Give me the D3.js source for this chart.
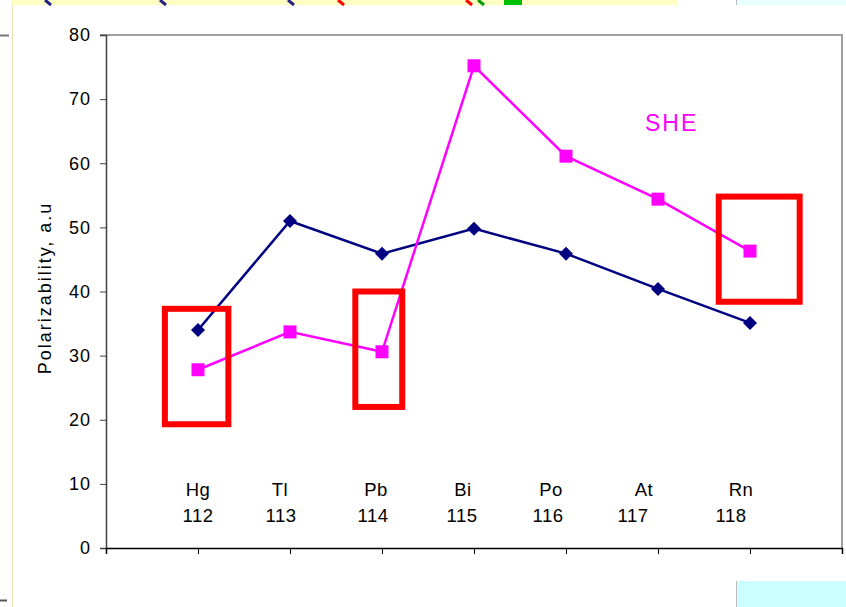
<!DOCTYPE html>
<html lang="en">
<head>
<meta charset="utf-8">
<title>Polarizability SHE</title>
<script src="https://cdn.jsdelivr.net/npm/d3@7"></script>
<style>
  body { margin: 0; background: #fff; }
  svg { display: block; font-family: "Liberation Sans", Arial, sans-serif; }
  .axis text { font-size: 18px; fill: #000; letter-spacing: 1px; }
</style>
</head>
<body>
<script>
// data
var elements = ["Hg", "Tl", "Pb", "Bi", "Po", "At", "Rn"];
var atomicNumbers = ["112", "113", "114", "115", "116", "117", "118"];
var nonRel = [34.0, 51.0, 45.9, 49.8, 45.9, 40.4, 35.1];   // navy diamonds
var she = [27.8, 33.7, 30.6, 75.2, 61.1, 54.4, 46.3];      // magenta squares
var yTicks = [0, 10, 20, 30, 40, 50, 60, 70, 80];
// highlight boxes, in category-index / value units
var boxes = [
  {x0: 0.64, x1: 1.33, y0: 19.3, y1: 37.3},
  {x0: 2.71, x1: 3.22, y0: 22.0, y1: 40.0},
  {x0: 6.66, x1: 7.54, y0: 38.4, y1: 54.8}
];

var W = 846, H = 607;
var svg = d3.select("body").append("svg").attr("width", W).attr("height", H);

// page bits around the chart (screenshot surroundings)
svg.append("rect").attr("x", 12).attr("y", 0).attr("width", 666).attr("height", 5).attr("fill", "#ffffc4");
var strokes = [[45, "#22228a"], [160, "#22228a"], [288, "#22228a"], [338, "#ff0000"], [466, "#ff0000"], [478, "#00a000"]];
strokes.forEach(function(s) {
  svg.append("line").attr("x1", s[0]).attr("y1", 0).attr("x2", s[0] + 6).attr("y2", 5)
    .attr("stroke", s[1]).attr("stroke-width", 3);
});
svg.append("rect").attr("x", 504).attr("y", 0).attr("width", 18).attr("height", 5).attr("fill", "#00c000");
svg.append("rect").attr("x", 737).attr("y", 0).attr("width", 109).attr("height", 5).attr("fill", "#e6ffff");
svg.append("line").attr("x1", 736.5).attr("y1", 0).attr("x2", 736.5).attr("y2", 5).attr("stroke", "#bbb");
svg.append("rect").attr("x", 737).attr("y", 581).attr("width", 109).attr("height", 26).attr("fill", "#ccffff");
svg.append("line").attr("x1", 736.5).attr("y1", 581).attr("x2", 736.5).attr("y2", 607).attr("stroke", "#bbb");
svg.append("line").attr("x1", 12.5).attr("y1", 5).attr("x2", 12.5).attr("y2", 607).attr("stroke", "#e8e4b0");
svg.append("line").attr("x1", 0).attr("y1", 35.5).attr("x2", 9).attr("y2", 35.5).attr("stroke", "#777").attr("stroke-width", 2);
svg.append("line").attr("x1", 0).attr("y1", 600.5).attr("x2", 7).attr("y2", 600.5).attr("stroke", "#555").attr("stroke-width", 2);

var plotL = 106, plotR = 842, plotT = 35, plotB = 548;
var x = d3.scaleLinear().domain([0, 8]).range([plotL, plotR]);
var y = d3.scaleLinear().domain([0, 80]).range([plotB, plotT]);

// plot frame (top and right)
svg.append("path")
  .attr("d", "M" + (plotL - 6) + "," + plotT + "H" + plotR + "V" + plotB)
  .attr("fill", "none").attr("stroke", "#a0a0a0").attr("stroke-width", 2);

// y axis
var gy = svg.append("g").attr("class", "axis")
  .attr("transform", "translate(" + plotL + ",0)")
  .call(d3.axisLeft(y).tickValues(yTicks).tickSize(6).tickPadding(9));
gy.select(".domain").attr("stroke", "#404040").attr("stroke-width", 1.5);
gy.selectAll(".tick line").attr("stroke", "#404040");

// x axis
var gx = svg.append("g").attr("class", "axis")
  .attr("transform", "translate(0," + plotB + ")")
  .call(d3.axisBottom(x).ticks(8).tickSize(6).tickFormat(""));
gx.select(".domain").attr("stroke", "#000").attr("stroke-width", 1.5);
gx.selectAll(".tick line").attr("stroke", "#000");

// y axis title
svg.append("text")
  .attr("transform", "translate(51,288) rotate(-90)")
  .attr("text-anchor", "middle")
  .attr("font-size", 18)
  .attr("letter-spacing", 2)
  .text("Polarizability, a.u");

// category labels inside the plot
var nameShift = [0, -10, -6, -11, -15, -14, -9];
var numShift = [0, -9, -9, -12, -18, -25, -19];
svg.selectAll(".elname").data(elements).enter().append("text")
  .attr("x", function(d, i) { return x(i + 1) + nameShift[i]; })
  .attr("y", 496).attr("text-anchor", "middle").attr("font-size", 18.5)
  .attr("letter-spacing", 0.5)
  .text(function(d) { return d; });
svg.selectAll(".elnum").data(atomicNumbers).enter().append("text")
  .attr("x", function(d, i) { return x(i + 1) + numShift[i]; })
  .attr("y", 522).attr("text-anchor", "middle").attr("font-size", 18.5)
  .attr("letter-spacing", 0.5)
  .text(function(d) { return d; });

var line = d3.line().x(function(d, i) { return x(i + 1); }).y(function(d) { return y(d); });

// navy series
svg.append("path").datum(nonRel).attr("d", line)
  .attr("fill", "none").attr("stroke", "#000080").attr("stroke-width", 2.5);
svg.selectAll(".dia").data(nonRel).enter().append("path")
  .attr("transform", function(d, i) { return "translate(" + x(i + 1) + "," + y(d) + ")"; })
  .attr("d", "M0,-7L7,0L0,7L-7,0Z").attr("fill", "#000080");

// magenta series
svg.append("path").datum(she).attr("d", line)
  .attr("fill", "none").attr("stroke", "#ff00ff").attr("stroke-width", 2.5);
svg.selectAll(".sq").data(she).enter().append("rect")
  .attr("x", function(d, i) { return x(i + 1) - 6.5; })
  .attr("y", function(d) { return y(d) - 6.5; })
  .attr("width", 13).attr("height", 13).attr("fill", "#ff00ff");

svg.append("text").attr("x", 645).attr("y", 131)
  .attr("font-size", 23).attr("letter-spacing", 2).attr("fill", "#ff00ff").text("SHE");

// red highlight boxes
svg.selectAll(".box").data(boxes).enter().append("rect")
  .attr("x", function(d) { return x(d.x0); })
  .attr("y", function(d) { return y(d.y1); })
  .attr("width", function(d) { return x(d.x1) - x(d.x0); })
  .attr("height", function(d) { return y(d.y0) - y(d.y1); })
  .attr("fill", "none").attr("stroke", "#ff0000").attr("stroke-width", 6);
</script>
</body>
</html>
